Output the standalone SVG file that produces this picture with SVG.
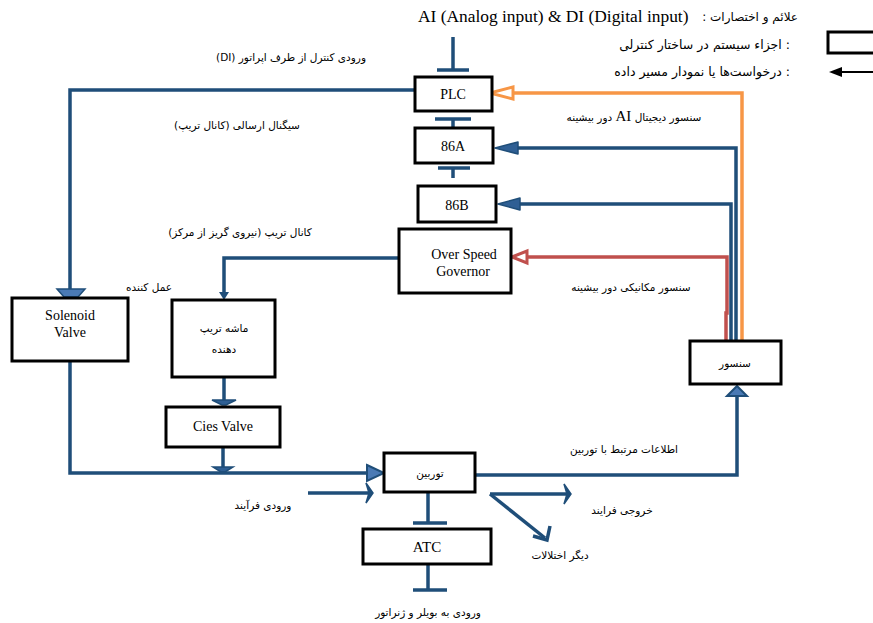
<svg xmlns="http://www.w3.org/2000/svg" width="873" height="623" viewBox="0 0 873 623">
<style>
.box{fill:#fff;stroke:#000;stroke-width:3}
.lbl{font-family:"Liberation Serif","Times New Roman",serif;font-size:14px;fill:#000;text-anchor:middle}
.fa{font-family:"DejaVu Sans","Noto Sans",sans-serif;font-size:10.5px;fill:#000;text-anchor:middle}
.ln{fill:none;stroke:#1f4e79;stroke-width:3.5}
.ah{fill:#2f5f94;stroke:#1f4e79;stroke-width:1.5;stroke-linejoin:round}
</style>
<rect width="873" height="623" fill="#fff"/>

<!-- legend -->
<g id="legend">
<text x="418" y="22" font-family="Liberation Serif, serif" font-size="17.4" fill="#000">AI (Analog input) &amp; DI (Digital input)</text>
<text x="798" y="21" class="fa" style="text-anchor:end;font-size:12px">: علائم و اختصارات</text>
<text x="790" y="49" class="fa" style="text-anchor:end;font-size:12.5px">اجزاء سیستم در ساختار کنترلی :</text>
<text x="790" y="76" class="fa" style="text-anchor:end;font-size:12.5px">درخواست‌ها یا نمودار مسیر داده :</text>
<rect x="828" y="32" width="60" height="21" fill="#fff" stroke="#000" stroke-width="3"/>
<line x1="840" y1="72" x2="873" y2="72" stroke="#000" stroke-width="2"/>
<polygon points="829,72 842,67 842,77" fill="#000"/>
</g>

<!-- connectors -->
<g id="connectors">
<line class="ln" x1="453" y1="37" x2="453" y2="69"/>
<line class="ln" x1="437" y1="70" x2="469" y2="70" stroke-width="3"/>
<polyline class="ln" points="415,90 70,90 70,289"/>
<polygon points="57,289 85,289 78,297 64,297" fill="#4a7ab5" stroke="#1f4e79" stroke-width="1.5"/>
<line class="ln" x1="453" y1="127" x2="453" y2="119"/>
<line class="ln" x1="435" y1="119" x2="471" y2="119" stroke-width="3"/>
<line class="ln" x1="453" y1="178" x2="453" y2="168"/>
<line class="ln" x1="438" y1="168" x2="470" y2="168" stroke-width="3"/>
<polyline points="742,341 742,93 513,93" fill="none" stroke="#f79646" stroke-width="3.5"/>
<polygon points="490,93 513,87 513,99" fill="#fff" stroke="#f79646" stroke-width="3"/>
<polyline class="ln" points="736,341 736,148 518,148"/>
<polygon class="ah" points="495,148 518,142 518,154"/>
<polyline class="ln" points="731,341 731,204 520,204"/>
<polygon class="ah" points="498,204 520,198 520,210"/>
<polyline points="726,341 726,313 727,313 727,257 527,257" fill="none" stroke="#c0504d" stroke-width="3.5"/>
<polygon points="512,257 527,251 527,263" fill="#fff" stroke="#c0504d" stroke-width="3"/>
<polyline class="ln" points="399,258 224,258 224,293" stroke-width="3"/>
<polygon points="219,292 229,292 224,300" fill="#1f4e79"/>
<line class="ln" x1="224" y1="377" x2="224" y2="401"/>
<polygon points="212,400 236,400 226,405 222,405" fill="#2f5f94" stroke="#1f4e79" stroke-width="1.5"/>
<line class="ln" x1="223" y1="447" x2="223" y2="468"/>
<polygon points="213,467 233,467 225,472 221,472" fill="#2f5f94" stroke="#1f4e79" stroke-width="1.5"/>
<polyline class="ln" points="70,361 70,473 370,473"/>
<polygon points="367,465 384,473 367,481" fill="#4a7ab5" stroke="#1f4e79" stroke-width="2"/>
<line class="ln" x1="308" y1="493" x2="369" y2="493"/>
<polygon points="366,483 373,493 366,503 369,493" fill="#1f4e79" stroke="#1f4e79" stroke-width="1.5"/>
<polyline class="ln" points="475,475 737,475 737,394"/>
<polygon points="727,396 737,386 747,396" fill="#4a7ab5" stroke="#1f4e79" stroke-width="2"/>
<line class="ln" x1="490" y1="494" x2="567" y2="494"/>
<polygon points="564,484 571,494 564,504 567,494" fill="#1f4e79" stroke="#1f4e79" stroke-width="1.5"/>
<line class="ln" x1="490" y1="494" x2="545" y2="538"/>
<polyline points="550,526 547,540 533,536" fill="none" stroke="#1f4e79" stroke-width="3.5" stroke-linejoin="miter"/>
<line class="ln" x1="428" y1="492" x2="428" y2="523"/>
<line class="ln" x1="413" y1="523" x2="447" y2="523" stroke-width="3"/>
<line class="ln" x1="428" y1="564" x2="428" y2="590"/>
<line class="ln" x1="413" y1="590" x2="447" y2="590" stroke-width="3"/>
</g>

<!-- nodes -->
<g id="plc"><rect class="box" x="415" y="77" width="77" height="34"/><text class="lbl" x="453" y="99">PLC</text></g>
<g id="n86a"><rect class="box" x="415" y="128" width="78" height="35"/><text class="lbl" x="453" y="151">86A</text></g>
<g id="n86b"><rect class="box" x="418" y="186" width="78" height="36"/><text class="lbl" x="457" y="210">86B</text></g>
<g id="osg"><rect class="box" x="399" y="229" width="112" height="64"/><text class="lbl" x="464" y="259">Over Speed</text><text class="lbl" x="463" y="276">Governor</text></g>
<g id="sensor"><rect class="box" x="690" y="341" width="91" height="43"/><text class="fa" x="735" y="367">سنسور</text></g>
<g id="solenoid"><rect class="box" x="12" y="298" width="116" height="63"/><text class="lbl" x="70" y="320">Solenoid</text><text class="lbl" x="70" y="337">Valve</text></g>
<g id="trip"><rect class="box" x="172" y="300" width="103" height="77"/><text class="fa" x="224" y="332">ماشه تریپ</text><text class="fa" x="224" y="353">دهنده</text></g>
<g id="cies"><rect class="box" x="166" y="407" width="114" height="40"/><text class="lbl" x="223" y="431">Cies Valve</text></g>
<g id="turbine"><rect class="box" x="384" y="453" width="91" height="39"/><text class="fa" x="430" y="477">توربین</text></g>
<g id="atc"><rect class="box" x="363" y="529" width="128" height="35"/><text class="lbl" x="427" y="552" style="font-size:15px">ATC</text></g>

<!-- labels -->
<g id="labels">
<text class="fa" x="291" y="61">(DI) ورودی کنترل از طرف اپراتور</text>
<text class="fa" x="237" y="129">سیگنال ارسالی (کانال تریپ)&#x200F;</text>
<text class="fa" x="240" y="236">کانال تریپ (نیروی گریز از مرکز)&#x200F;</text>
<text class="fa" x="149" y="291">عمل کننده</text>
<text class="fa" x="634" y="121">دور بیشینه <tspan font-family="Liberation Serif, serif" font-size="15">AI</tspan> سنسور دیجیتال</text>
<text class="fa" x="631" y="291">سنسور مکانیکی دور بیشینه</text>
<text class="fa" x="624" y="453">اطلاعات مرتبط با توربین</text>
<text class="fa" x="263" y="509">ورودی فرآیند</text>
<text class="fa" x="622" y="514">خروجی فرایند</text>
<text class="fa" x="560" y="559">دیگر اختلالات</text>
<text class="fa" x="428" y="616">ورودی به بویلر و ژنراتور</text>
</g>
</svg>
